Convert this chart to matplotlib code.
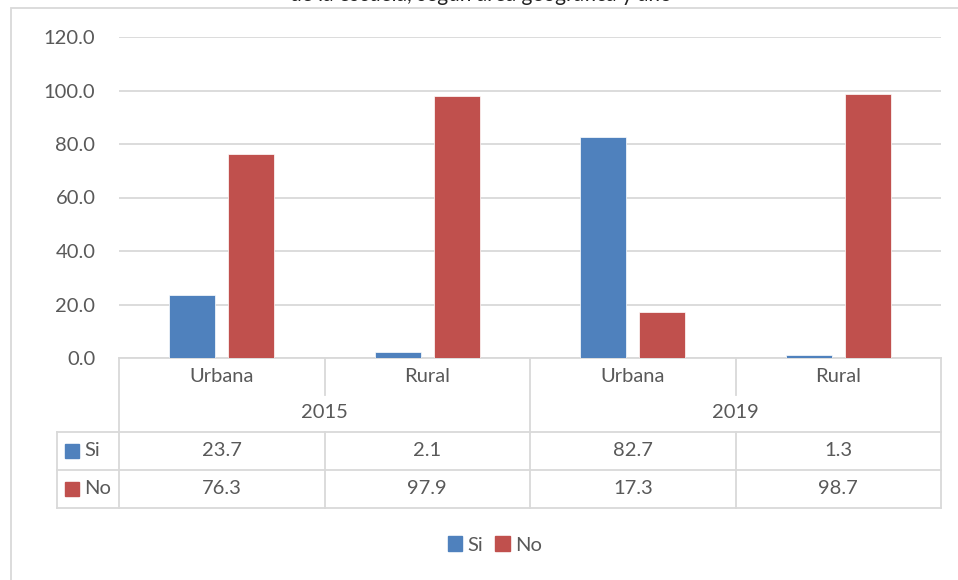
import matplotlib.pyplot as plt
from matplotlib.patches import Rectangle
from matplotlib.lines import Line2D
import matplotlib.transforms as mtransforms

plt.rcParams['font.family'] = ['Lato', 'DejaVu Sans']

# datos
areas = ['Urbana', 'Rural', 'Urbana', 'Rural']
years = ['2015', '2019']
si = [23.7, 2.1, 82.7, 1.3]
no = [76.3, 97.9, 17.3, 98.7]
series_names = ['Si', 'No']
yticks = [0, 20, 40, 60, 80, 100, 120]

blue = '#4F81BD'
red = '#C0504D'
grey = '#D9D9D9'
txt = '#595959'

W, H = 958, 580
fig = plt.figure(figsize=(W / 100, H / 100), dpi=100)

# area del grafico en pixeles
x0, x1 = 119, 941
ytop, ybot = 37, 358
ax = fig.add_axes([x0 / W, 1 - ybot / H, (x1 - x0) / W, (ybot - ytop) / H])

# marco exterior
fig.add_artist(Rectangle((11 / W, -0.1), 1.2, 1 - 8 / H + 0.1, transform=fig.transFigure,
                         fill=False, edgecolor=grey, lw=1.3))

# titulo (cortado arriba, como en el original)
fig.text(481 / W, 1 - 1 / H, 'de la escuela, según área geográfica y año', ha='center', va='baseline',
         fontsize=15, color='#222222')

n = len(areas)
xs = list(range(n))
bw = 0.224
off = 0.1435
ax.bar([x - off for x in xs], si, width=bw, color=blue, edgecolor='white', lw=0.5, zorder=3)
ax.bar([x + off for x in xs], no, width=bw, color=red, edgecolor='white', lw=0.5, zorder=3)

ax.set_xlim(-0.5, n - 0.5)
ax.set_ylim(0, 120)
ax.set_yticks(yticks)
ax.set_yticklabels(['%.1f' % v for v in yticks])
ax.yaxis.grid(True, color=grey, lw=1.3, zorder=0)
ax.set_xticks([])
for s in ax.spines.values():
    s.set_visible(False)
ax.tick_params(axis='y', length=0, pad=17, labelsize=14.5, labelcolor=txt)

# tabla de datos bajo el eje
ph = ybot - ytop
tr = mtransforms.blended_transform_factory(ax.transData, ax.transAxes)


def fy(py):
    return (ybot - py) / ph


def px2x(px):
    return -0.5 + (px - x0) / ((x1 - x0) / n)


def hline(xa, xb, py):
    ax.add_line(Line2D([xa, xb], [fy(py), fy(py)], transform=tr, color=grey, lw=1.3, clip_on=False))


def vline(x, pa, pb):
    ax.add_line(Line2D([x, x], [fy(pa), fy(pb)], transform=tr, color=grey, lw=1.3, clip_on=False))


xk = px2x(57)
hline(-0.5, n - 0.5, ybot)
for py in [432, 470, 508]:
    hline(xk, n - 0.5, py)
vline(xk, 432, 508)
for b in [-0.5, 1.5, n - 0.5]:
    vline(b, ybot, 508)
for b in [0.5, 2.5]:
    vline(b, ybot, 395)
    vline(b, 432, 508)

fs = 14.5
for i, a in enumerate(areas):
    ax.text(i, fy(377), a, transform=tr, ha='center', va='center', fontsize=fs, color=txt)
    ax.text(i, fy(451), '%.1f' % si[i], transform=tr, ha='center', va='center', fontsize=fs, color=txt)
    ax.text(i, fy(489), '%.1f' % no[i], transform=tr, ha='center', va='center', fontsize=fs, color=txt)
for j, y in enumerate(years):
    ax.text(2 * j + 0.5, fy(413), y, transform=tr, ha='center', va='center', fontsize=fs, color=txt)

# clave de color en la tabla
kw = px2x(79) - px2x(65)
for py, name, col in [(451, series_names[0], blue), (489, series_names[1], red)]:
    ax.add_patch(Rectangle((px2x(65), fy(py + 7)), kw, 14 / ph, transform=tr, color=col, clip_on=False))
    ax.text(px2x(84), fy(py), name, transform=tr, ha='left', va='center', fontsize=fs, color=txt)

# leyenda
handles = [Rectangle((0, 0), 1, 1, color=blue), Rectangle((0, 0), 1, 1, color=red)]
leg = fig.legend(handles, series_names, loc='center', bbox_to_anchor=(495 / W, 1 - 545 / H), ncol=2,
                 frameon=False, fontsize=fs, handlelength=0.7, handleheight=0.7, handletextpad=0.3,
                 columnspacing=0.6)
for t in leg.get_texts():
    t.set_color(txt)

fig.savefig('out.png', dpi=100)
